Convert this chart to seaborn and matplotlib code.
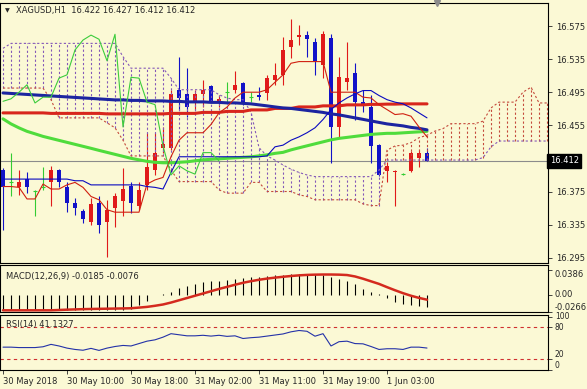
import matplotlib
matplotlib.use("Agg")
import numpy as np
import pandas as pd
import matplotlib.pyplot as plt
import seaborn as sns

# ---------------- data: XAGUSD H1 ----------------
time_labels = ["30 May 2018", "30 May 10:00", "30 May 18:00", "31 May 02:00",
               "31 May 11:00", "31 May 19:00", "1 Jun 03:00"]
label_bars = [0, 8, 16, 24, 32, 40, 48]

opens = [16.401, 16.386, 16.380, 16.390, 16.376, 16.381, 16.386, 16.401, 16.381, 16.361,
         16.352, 16.338, 16.361, 16.338, 16.355, 16.363, 16.382, 16.357, 16.383, 16.401,
         16.427, 16.428, 16.498, 16.493, 16.482, 16.493, 16.503, 16.482, 16.495, 16.498,
         16.506, 16.489, 16.492, 16.494, 16.510, 16.516, 16.550, 16.562, 16.564, 16.556,
         16.528, 16.561, 16.453, 16.507, 16.518, 16.483, 16.477, 16.431, 16.400, 16.398,
         16.396, 16.400, 16.416, 16.422]
highs = [16.404, 16.422, 16.401, 16.398, 16.377, 16.405, 16.406, 16.402, 16.386, 16.367,
         16.354, 16.367, 16.369, 16.365, 16.373, 16.404, 16.386, 16.386, 16.446, 16.446,
         16.453, 16.498, 16.538, 16.524, 16.498, 16.510, 16.504, 16.492, 16.507, 16.521,
         16.507, 16.495, 16.501, 16.516, 16.530, 16.562, 16.583, 16.576, 16.569, 16.561,
         16.569, 16.565, 16.538, 16.556, 16.530, 16.498, 16.492, 16.433, 16.411, 16.401,
         16.397, 16.424, 16.425, 16.427]
lows = [16.329, 16.369, 16.371, 16.373, 16.345, 16.377, 16.357, 16.380, 16.350, 16.347,
        16.337, 16.335, 16.325, 16.296, 16.332, 16.345, 16.349, 16.353, 16.377, 16.395,
        16.422, 16.425, 16.474, 16.465, 16.474, 16.477, 16.483, 16.477, 16.483, 16.494,
        16.480, 16.483, 16.486, 16.486, 16.504, 16.504, 16.536, 16.552, 16.538, 16.516,
        16.512, 16.410, 16.440, 16.498, 16.462, 16.471, 16.410, 16.394, 16.387, 16.357,
        16.395, 16.399, 16.405, 16.412]
closes = [16.381, 16.386, 16.386, 16.380, 16.376, 16.381, 16.401, 16.386, 16.361, 16.355,
          16.342, 16.360, 16.335, 16.353, 16.369, 16.378, 16.361, 16.377, 16.405, 16.422,
          16.433, 16.493, 16.488, 16.477, 16.493, 16.498, 16.484, 16.487, 16.495, 16.504,
          16.482, 16.489, 16.489, 16.512, 16.516, 16.546, 16.558, 16.564, 16.559, 16.533,
          16.565, 16.453, 16.513, 16.512, 16.483, 16.480, 16.430, 16.395, 16.406, 16.400,
          16.396, 16.422, 16.422, 16.412]

ma_blue = [16.4941, 16.4935, 16.4929, 16.4923, 16.4917, 16.4911, 16.4905, 16.4899, 16.4893, 16.4887,
           16.4881, 16.4875, 16.4869, 16.4863, 16.4857, 16.4857, 16.4851, 16.4851, 16.4845, 16.4845,
           16.4845, 16.4839, 16.4839, 16.4833, 16.4833, 16.4833, 16.4827, 16.4827, 16.4821, 16.4821,
           16.4815, 16.4809, 16.4797, 16.4785, 16.4772, 16.4760, 16.4754, 16.4742, 16.4730, 16.4718,
           16.4706, 16.4688, 16.4676, 16.4658, 16.4640, 16.4622, 16.4603, 16.4585, 16.4567, 16.4555,
           16.4543, 16.4525, 16.4513, 16.4495]
ma_red = [16.4700, 16.4700, 16.4700, 16.4700, 16.4700, 16.4700, 16.4694, 16.4694, 16.4694, 16.4694,
          16.4694, 16.4694, 16.4694, 16.4688, 16.4688, 16.4688, 16.4688, 16.4688, 16.4688, 16.4688,
          16.4688, 16.4694, 16.4694, 16.4694, 16.4694, 16.4706, 16.4706, 16.4706, 16.4718, 16.4718,
          16.4718, 16.4736, 16.4736, 16.4736, 16.4754, 16.4754, 16.4754, 16.4772, 16.4772, 16.4772,
          16.4785, 16.4785, 16.4785, 16.4797, 16.4797, 16.4797, 16.4803, 16.4803, 16.4806, 16.4806,
          16.4809, 16.4809, 16.4809, 16.4809]
ma_green = [16.4628, 16.4567, 16.4519, 16.4477, 16.4447, 16.4416, 16.4392, 16.4368, 16.4344, 16.4320,
            16.4296, 16.4272, 16.4247, 16.4223, 16.4199, 16.4175, 16.4151, 16.4133, 16.4115, 16.4103,
            16.4097, 16.4097, 16.4103, 16.4109, 16.4121, 16.4133, 16.4139, 16.4145, 16.4151, 16.4157,
            16.4163, 16.4169, 16.4181, 16.4193, 16.4211, 16.4223, 16.4253, 16.4278, 16.4302, 16.4326,
            16.4350, 16.4374, 16.4392, 16.4404, 16.4416, 16.4428, 16.4440, 16.4447, 16.4453, 16.4453,
            16.4459, 16.4465, 16.4471, 16.4477]

tenkan = [16.381, 16.381, 16.380, 16.366, 16.366, 16.384, 16.378, 16.378, 16.383, 16.386,
          16.380, 16.369, 16.365, 16.353, 16.350, 16.350, 16.350, 16.350, 16.384, 16.389,
          16.392, 16.417, 16.437, 16.446, 16.446, 16.446, 16.456, 16.470, 16.477, 16.488,
          16.495, 16.495, 16.495, 16.498, 16.507, 16.516, 16.530, 16.532, 16.532, 16.532,
          16.532, 16.495, 16.495, 16.495, 16.495, 16.489, 16.488, 16.480, 16.474, 16.468,
          16.469, 16.466, 16.453, 16.441]
kijun = [16.390, 16.390, 16.390, 16.390, 16.390, 16.390, 16.390, 16.390, 16.390, 16.388,
         16.388, 16.383, 16.383, 16.383, 16.383, 16.383, 16.383, 16.383, 16.381, 16.380,
         16.378, 16.398, 16.417, 16.417, 16.417, 16.417, 16.417, 16.417, 16.417, 16.417,
         16.417, 16.417, 16.417, 16.418, 16.429, 16.431, 16.437, 16.441, 16.446, 16.452,
         16.462, 16.474, 16.482, 16.488, 16.493, 16.497, 16.497, 16.491, 16.486, 16.483,
         16.481, 16.476, 16.470, 16.464]

# senkou spans, 26 bars projected past the last candle
span_a = [16.500, 16.500, 16.500, 16.500, 16.500, 16.500, 16.486, 16.464, 16.464, 16.464,
          16.464, 16.464, 16.464, 16.458, 16.452, 16.437, 16.418, 16.418, 16.418, 16.418,
          16.418, 16.401, 16.387, 16.387, 16.387, 16.387, 16.387, 16.377, 16.373, 16.373,
          16.373, 16.386, 16.386, 16.375, 16.375, 16.375, 16.375, 16.371, 16.369, 16.365,
          16.365, 16.365, 16.365, 16.365, 16.365, 16.360, 16.358, 16.358, 16.425, 16.430,
          16.431, 16.434, 16.440, 16.443, 16.448, 16.451, 16.457, 16.457, 16.457, 16.457,
          16.460, 16.476, 16.483, 16.483, 16.483, 16.495, 16.501, 16.482, 16.482]
span_b = [16.548, 16.554, 16.554, 16.554, 16.554, 16.554, 16.554, 16.554, 16.554, 16.554,
          16.554, 16.554, 16.554, 16.554, 16.554, 16.538, 16.524, 16.524, 16.524, 16.524,
          16.524, 16.512, 16.498, 16.498, 16.498, 16.498, 16.498, 16.492, 16.488, 16.486,
          16.486, 16.471, 16.428, 16.418, 16.413, 16.407, 16.402, 16.398, 16.395, 16.393,
          16.393, 16.393, 16.393, 16.393, 16.393, 16.393, 16.393, 16.401, 16.413, 16.413,
          16.413, 16.413, 16.413, 16.413, 16.413, 16.413, 16.413, 16.413, 16.413, 16.413,
          16.416, 16.429, 16.436, 16.436, 16.436, 16.436, 16.436, 16.436, 16.436]

macd_main = [-0.0238, -0.0236, -0.0235, -0.0236, -0.0237, -0.0236, -0.0234, -0.0235, -0.0237, -0.0238,
             -0.0239, -0.0238, -0.0239, -0.0238, -0.0236, -0.0232, -0.0220, -0.0160, -0.0090, -0.0010,
             0.0010, 0.0050, 0.0100, 0.0140, 0.0170, 0.0190, 0.0210, 0.0220, 0.0230, 0.0250,
             0.0260, 0.0270, 0.0280, 0.0290, 0.0300, 0.0310, 0.0320, 0.0320, 0.0320, 0.0315,
             0.0310, 0.0280, 0.0237, 0.0206, 0.0160, 0.0097, 0.0040, 0.0005, -0.0057, -0.0104,
             -0.0150, -0.0165, -0.0170, -0.0185]
macd_signal = [-0.0240, -0.0240, -0.0240, -0.0240, -0.0240, -0.0240, -0.0240, -0.0235, -0.0230, -0.0226,
               -0.0222, -0.0219, -0.0217, -0.0215, -0.0213, -0.0211, -0.0208, -0.0198, -0.0187, -0.0170,
               -0.0150, -0.0120, -0.0085, -0.0050, -0.0015, 0.0020, 0.0055, 0.0090, 0.0122, 0.0155,
               0.0185, 0.0210, 0.0232, 0.0250, 0.0265, 0.0278, 0.0290, 0.0300, 0.0307, 0.0311,
               0.0313, 0.0313, 0.0311, 0.0305, 0.0283, 0.0248, 0.0208, 0.0168, 0.0118, 0.0070,
               0.0025, -0.0015, -0.0048, -0.0076]

rsi = [42.8, 42.8, 42.0, 42.0, 42.0, 43.5, 48.0, 45.0, 41.0, 38.5,
       37.0, 40.5, 36.7, 41.0, 44.0, 46.0, 45.0, 49.5, 54.0, 56.5,
       61.5, 68.0, 66.0, 64.0, 64.0, 65.0, 63.5, 65.0, 63.0, 64.0,
       59.0, 60.5, 61.5, 63.5, 65.5, 67.5, 71.5, 74.0, 72.5, 63.3,
       68.0, 45.0, 53.0, 54.0, 49.5, 49.0, 44.0, 38.5, 39.8, 39.8,
       38.5, 42.8, 42.8, 41.1327]
rsi_levels = [80, 20]

price_ticks = [16.575, 16.535, 16.495, 16.455, 16.375, 16.335, 16.295]
last_price = 16.412

# ---------------- style ----------------
BG = "#fbf9d5"
BULL = "#e01a1a"
BEAR = "#1212c8"
DOJI = "#33cc33"
KUMO_UP = "#c44a3c"
KUMO_DN = "#8458b8"
DASH = (0, (2, 2))

sns.set_theme(style="white", rc={"axes.facecolor": BG, "figure.facecolor": BG,
                                 "axes.edgecolor": "black", "axes.linewidth": 0.8})
plt.rcParams["font.family"] = ["DejaVu Sans"]
FS = 6

W, H = 587, 389
fig = plt.figure(figsize=(W / 100, H / 100), dpi=100)


def px_axes(left, top, right, bottom):
    return fig.add_axes([left / W, 1 - bottom / H, (right - left) / W, (bottom - top) / H])


main = px_axes(0, 3, 548, 263)
macd = px_axes(0, 265, 548, 312)
rsi_ax = px_axes(0, 315, 548, 370)

n = len(closes)
x = np.arange(n)
xc = np.arange(len(span_a))
o, h, l, c = map(np.array, (opens, highs, lows, closes))
xlim = (-0.375, 68.125)

# ---------------- main panel ----------------
main.axhline(last_price, color="#8c8c8c", lw=0.8, zorder=1)

cols = np.where(c > o, BULL, np.where(c < o, BEAR, DOJI))
main.vlines(x, l, h, colors=cols, lw=0.8, zorder=2)
body = c != o
main.bar(x[body], np.abs(c - o)[body], bottom=np.minimum(o, c)[body], width=0.6,
         color=cols[body], linewidth=0, zorder=2)
main.hlines(o[~body], x[~body] - 0.3, x[~body] + 0.3, colors=DOJI, lw=0.8, zorder=2)

# ichimoku cloud hatching
a, b = np.array(span_a), np.array(span_b)
kumo_cols = np.where(a >= b, KUMO_UP, KUMO_DN)
main.vlines(xc, np.minimum(a, b), np.maximum(a, b), colors=kumo_cols, linestyles=DASH,
            lw=0.8, zorder=3)
sns.lineplot(x=xc, y=a, ax=main, color=KUMO_UP, lw=0.8, linestyle=DASH, zorder=3)
sns.lineplot(x=xc, y=b, ax=main, color=KUMO_DN, lw=0.8, linestyle=DASH, zorder=3)

sns.lineplot(x=x, y=ma_green, ax=main, color="#4fdc3c", lw=2.2, zorder=4)
sns.lineplot(x=x, y=ma_red, ax=main, color="#d8261c", lw=2.2, zorder=4)
sns.lineplot(x=x, y=ma_blue, ax=main, color="#1c24a0", lw=2.2, zorder=4)
sns.lineplot(x=x, y=tenkan, ax=main, color="#d02010", lw=0.8, zorder=5)
sns.lineplot(x=x, y=kijun, ax=main, color="#0a0ac0", lw=0.8, zorder=5)
chikou = closes[26:]
sns.lineplot(x=np.arange(len(chikou)), y=chikou, ax=main, color="#3ccc3c", lw=0.8, zorder=5)

main.set_xlim(*xlim)
main.set_ylim(16.2886, 16.6028)
main.set_xticks([])
main.yaxis.tick_right()
main.set_yticks(price_ticks)
main.set_yticklabels([f"{v:.3f}" for v in price_ticks])
main.tick_params(axis="y", right=True, left=False, length=3, width=0.6, pad=3,
                 labelsize=FS, direction="out")
main.set_xlabel("")
main.set_ylabel("")
main.text(1.003, last_price, f"{last_price:.3f}", transform=main.get_yaxis_transform(),
          color="white", fontsize=FS, va="center", ha="left", zorder=10,
          bbox=dict(boxstyle="square,pad=0.3", fc="black", ec="black"))
main.plot([437 / 548], [1.0], transform=main.transAxes, marker="v", color="#8c8c8c",
          ms=5, clip_on=False, zorder=10)
fig.text(5 / W, 1 - 11 / H, "\u25bc", fontsize=4.5, va="center", ha="left")
fig.text(16 / W, 1 - 11 / H, "XAGUSD,H1  16.422 16.427 16.412 16.412",
         fontsize=FS, va="center", ha="left")

# ---------------- MACD ----------------
macd.vlines(x, 0, macd_main, colors="black", lw=0.8)
sns.lineplot(x=x, y=macd_signal, ax=macd, color="#d42a1e", lw=1.8)
macd.set_xlim(*xlim)
macd.set_ylim(-0.0266, 0.046)
macd.set_xticks([])
macd.yaxis.tick_right()
macd.set_yticks([0.0386, 0.0, -0.0266])
macd.set_yticklabels(["0.0386", "0.00", "-0.0266"])
for lab, va in zip(macd.get_yticklabels(), ["top", "center", "bottom"]):
    lab.set_va(va)
macd.tick_params(axis="y", right=True, left=False, length=3, width=0.6, pad=2,
                 labelsize=FS, direction="out")
macd.set_xlabel("")
macd.set_ylabel("")
macd.text(0.011, 0.75, "MACD(12,26,9) -0.0185 -0.0076", transform=macd.transAxes,
          fontsize=FS, va="center", ha="left")

# ---------------- RSI ----------------
for lev in rsi_levels:
    rsi_ax.axhline(lev, color="#d03030", lw=0.8, linestyle=(0, (3, 3)))
sns.lineplot(x=x, y=rsi, ax=rsi_ax, color="#2432a8", lw=0.8)
rsi_ax.set_xlim(*xlim)
rsi_ax.set_ylim(0, 103)
rsi_ax.yaxis.tick_right()
rsi_ax.set_yticks([100, 80, 20, 0])
rsi_ax.set_yticklabels(["100", "80", "20", "0"])
for lab, va in zip(rsi_ax.get_yticklabels(), ["center", "center", "bottom", "bottom"]):
    lab.set_va(va)
rsi_ax.tick_params(axis="y", right=True, left=False, length=3, width=0.6, pad=2,
                   labelsize=5.5, direction="out")
rsi_ax.set_xticks(label_bars)
rsi_ax.set_xticklabels(time_labels)
for lab in rsi_ax.get_xticklabels():
    lab.set_ha("left")
rsi_ax.tick_params(axis="x", bottom=True, length=3, width=0.6, pad=2,
                   labelsize=FS, direction="out")
rsi_ax.set_xlabel("")
rsi_ax.set_ylabel("")
rsi_ax.text(0.011, 0.82, "RSI(14) 41.1327", transform=rsi_ax.transAxes,
            fontsize=FS, va="center", ha="left")

for ax in (main, macd, rsi_ax):
    for sp in ax.spines.values():
        sp.set_color("black")
        sp.set_linewidth(0.8)

fig.savefig("out.png", dpi=100, facecolor=BG)
